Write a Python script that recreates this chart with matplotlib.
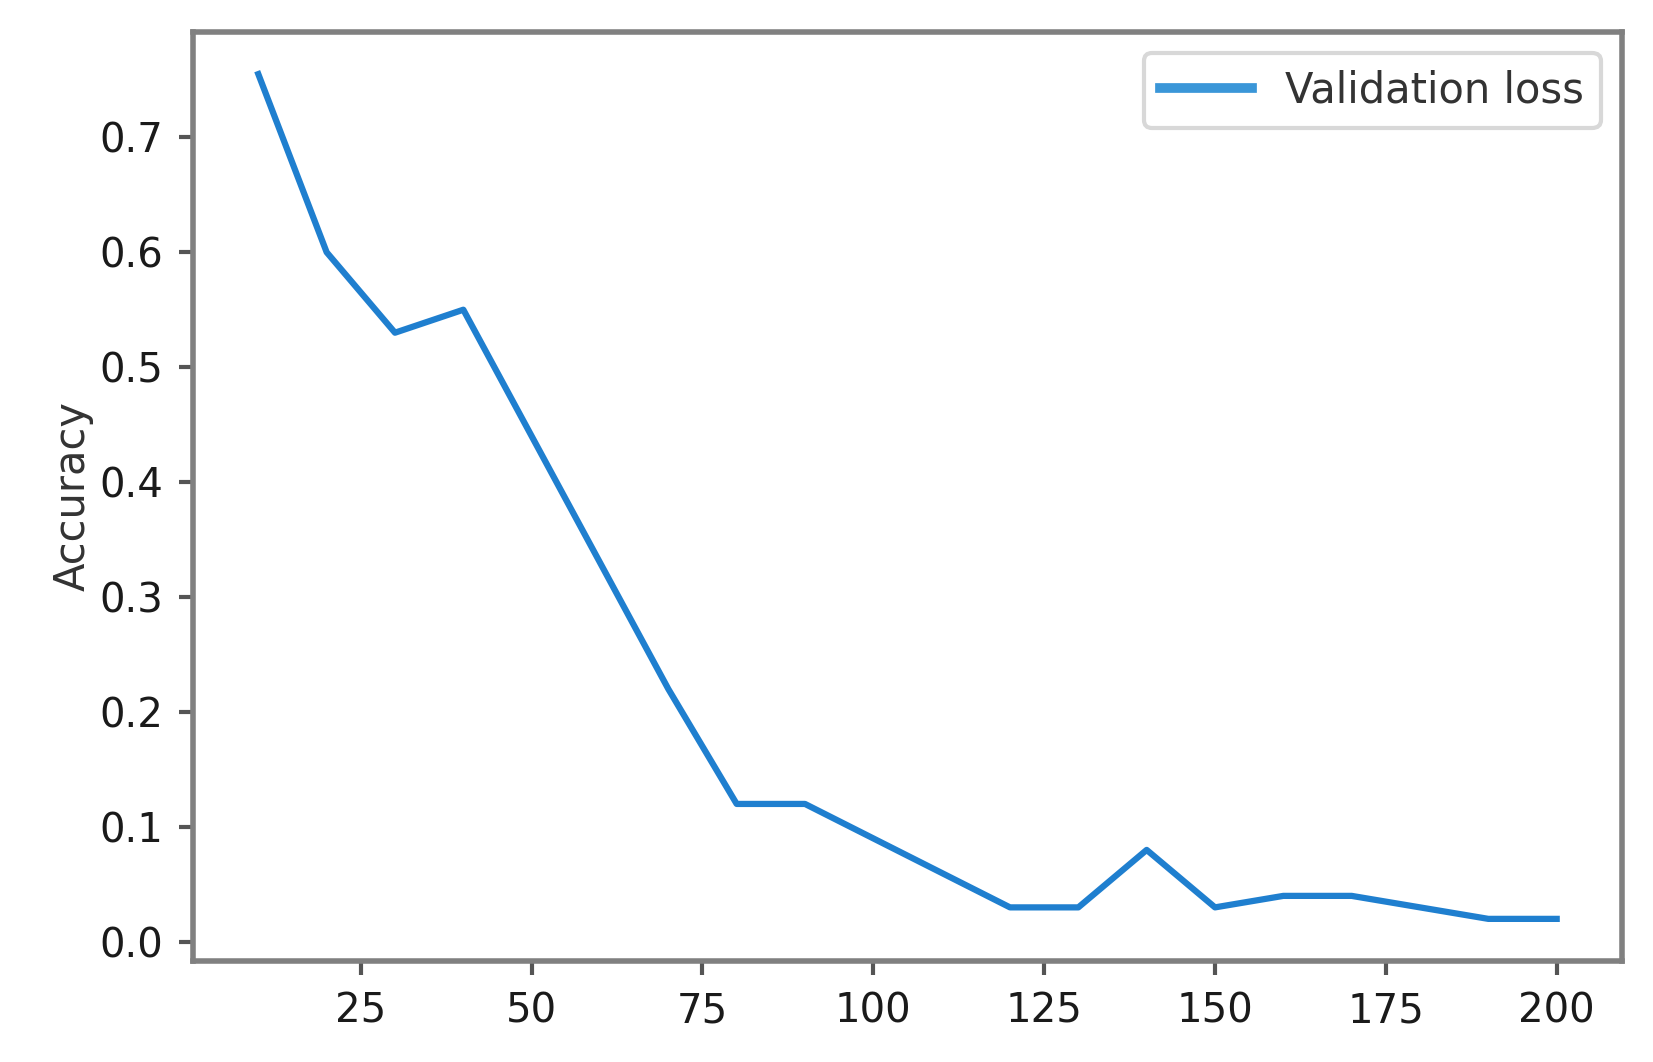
import numpy as np
import matplotlib.pyplot as plt

# epochs and validation loss
epochs = [10, 20, 30, 40, 50, 60, 70, 80, 90, 100,
          110, 120, 130, 140, 150, 160, 170, 180, 190, 200]
val_loss = [0.755, 0.60, 0.53, 0.55, 0.44, 0.33, 0.22, 0.12, 0.12, 0.09,
            0.06, 0.03, 0.03, 0.08, 0.03, 0.04, 0.04, 0.03, 0.02, 0.02]

fig = plt.figure(figsize=(16.53, 10.62), dpi=100)
ax = fig.add_axes([0.117, 0.095, 0.864, 0.875])

line, = ax.plot(epochs, val_loss, color='#1f7fcf', lw=4.5, label='Validation loss')

ax.set_ylabel('Accuracy', fontsize=30, color='#333333')
ax.set_xticks([25, 50, 75, 100, 125, 150, 175, 200])
ax.set_yticks(np.arange(0, 0.71, 0.1))
ax.tick_params(axis='both', labelsize=29, labelcolor='#1a1a1a',
               length=10, width=3, color='#555555', pad=12)

for s in ax.spines.values():
    s.set_linewidth(4)
    s.set_color('#808080')

leg = ax.legend(fontsize=30, loc='upper right', handlelength=2.2,
                fancybox=True, framealpha=1)
leg.get_frame().set_edgecolor('#d8d8d8')
leg.get_frame().set_linewidth(3)
leg.get_lines()[0].set_linewidth(7)
leg.get_lines()[0].set_color('#3a96d8')
for t in leg.get_texts():
    t.set_color('#333333')

plt.savefig('out.png', dpi=100)
